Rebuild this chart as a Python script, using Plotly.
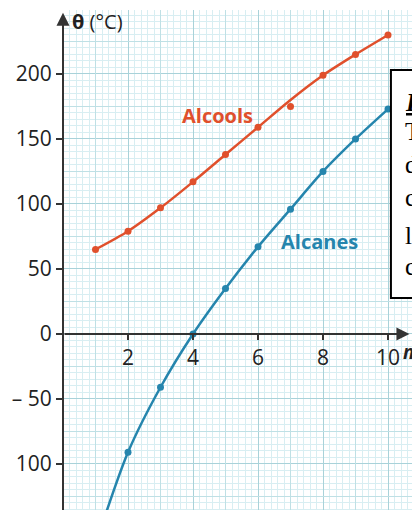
import plotly.graph_objects as go

# ---- data ----
n_values = [1, 2, 3, 4, 5, 6, 7, 8, 9, 10]
alcools_points = [65, 79, 97, 117, 138, 159, 175, 199, 215, 230]
alcools_curve = [65, 79, 97, 117, 138, 159, 180, 199, 215, 230]
alcanes_points = [-162, -91, -41, 0, 35, 67, 96, 125, 150, 173]

y_tick_vals = [-100, -50, 0, 50, 100, 150, 200]
y_tick_text = ["100", "– 50", "0", "50", "100", "150", "200"]
x_tick_vals = [2, 4, 6, 8, 10]
x_tick_text = ["2", "4", "6", "8", "10"]

box_lines = ["Doc", "Températures", "d'ébullition", "comparées", "linéaires", "composés"]

# ---- style ----
RED = "#e0502c"
BLUE = "#2585ad"
AX = "#333333"
G_MAJOR = "#a9d2d9"
G_MED = "#bfe0e5"
G_MINOR = "#d8eef2"
FONT = "Open Sans"

FIG_W = 420
FIG_H = 510
XR = [0, (FIG_W - 55) / 32.5]
YR = [249.2 - (FIG_H - 2) / 1.3, 249.2]
X_AXIS_POS = (0 - YR[0]) / (YR[1] - YR[0])

fig = go.Figure()

# invisible trace to create the overlay subplot used for mid-level grid
fig.add_trace(go.Scatter(x=[], y=[], xaxis="x2", yaxis="y2", showlegend=False, hoverinfo="skip"))

fig.add_trace(go.Scatter(x=n_values, y=alcools_curve, mode="lines",
                         line=dict(color=RED, width=2.5, shape="spline", smoothing=0.8),
                         showlegend=False, hoverinfo="skip"))
fig.add_trace(go.Scatter(x=n_values, y=alcools_points, mode="markers",
                         marker=dict(color=RED, size=7), showlegend=False))
fig.add_trace(go.Scatter(x=n_values, y=alcanes_points, mode="lines+markers",
                         line=dict(color=BLUE, width=2.5, shape="spline", smoothing=0.8),
                         marker=dict(color=BLUE, size=7), showlegend=False))

fig.update_layout(
    width=FIG_W, height=FIG_H,
    margin=dict(l=55, r=0, t=2, b=0, autoexpand=False),
    paper_bgcolor="white", plot_bgcolor="white",
    font=dict(family=FONT, color="#222222"),
    xaxis=dict(range=XR, anchor="free", position=X_AXIS_POS, automargin=False,
               tickvals=x_tick_vals, ticktext=x_tick_text,
               showgrid=True, gridcolor=G_MAJOR, gridwidth=1.3,
               zeroline=False, showline=False,
               ticks="outside", ticklen=5, tickwidth=1.5, tickcolor=AX,
               tickfont=dict(size=21, family=FONT, color="#222"),
               minor=dict(dtick=0.2, tick0=0, showgrid=True, gridcolor=G_MINOR, gridwidth=1, ticks=""),
               fixedrange=True),
    yaxis=dict(range=YR, tickvals=y_tick_vals, ticktext=y_tick_text, automargin=False,
               showgrid=True, gridcolor=G_MAJOR, gridwidth=1.3,
               zeroline=False, showline=False,
               ticks="outside", ticklen=6, tickwidth=1.5, tickcolor=AX,
               tickfont=dict(size=21, family=FONT, color="#222"),
               minor=dict(dtick=5, tick0=0, showgrid=True, gridcolor=G_MINOR, gridwidth=1, ticks=""),
               fixedrange=True),
    xaxis2=dict(range=XR, overlaying="x", anchor="y2", tickvals=[1, 3, 5, 7, 9, 11], automargin=False,
                showgrid=True, gridcolor=G_MED, gridwidth=1.2, showticklabels=False,
                ticks="", zeroline=False, showline=False, fixedrange=True),
    yaxis2=dict(range=YR, overlaying="y", anchor="x2", automargin=False,
                tickvals=[-125, -75, -25, 25, 75, 125, 175, 225],
                showgrid=True, gridcolor=G_MED, gridwidth=1.2, showticklabels=False,
                ticks="", zeroline=False, showline=False, fixedrange=True),
)

# axes with arrows
fig.add_annotation(x=0, y=247, ax=0, ay=YR[0], xref="x", yref="y", axref="x", ayref="y",
                   text="", showarrow=True, arrowhead=2, arrowsize=1.3, arrowwidth=2, arrowcolor=AX, standoff=0)
fig.add_annotation(x=10.66, y=0, ax=0, ay=0, xref="x", yref="y", axref="x", ayref="y",
                   text="", showarrow=True, arrowhead=2, arrowsize=1.3, arrowwidth=2, arrowcolor=AX, standoff=0)

fig.add_annotation(x=0.2, y=240, xref="x", yref="y", text="<b>θ</b> (°C)", showarrow=False,
                   xanchor="left", yanchor="middle", font=dict(size=20, family=FONT, color="#222"))
fig.add_annotation(x=10.63, y=-14, xref="x", yref="y", text="<b><i>n</i></b>", showarrow=False,
                   xanchor="center", yanchor="middle", font=dict(size=19, family=FONT, color="#222"))

# series labels
fig.add_annotation(x=4.74, y=168, xref="x", yref="y", text="<b>Alcools</b>", showarrow=False,
                   font=dict(size=20, family=FONT, color=RED))
fig.add_annotation(x=7.88, y=71, xref="x", yref="y", text="<b>Alcanes</b>", showarrow=False,
                   font=dict(size=20, family=FONT, color=BLUE))

# cropped text box on the right
fig.add_shape(type="rect", xref="x", yref="y", x0=10.09, x1=11.8, y0=27.7, y1=203,
              fillcolor="white", line=dict(color="black", width=2), layer="above")
line_y = [178, 156, 130, 105, 76, 52]
for i, (txt, yy) in enumerate(zip(box_lines, line_y)):
    t = f"<b><i><u>{txt}</u></i></b>" if i == 0 else txt
    fig.add_annotation(x=10.46, y=yy, xref="x", yref="y", text=t, showarrow=False,
                       xanchor="left", yanchor="middle",
                       font=dict(size=25, family="Liberation Serif", color="black"))

fig.write_html("out.html")
